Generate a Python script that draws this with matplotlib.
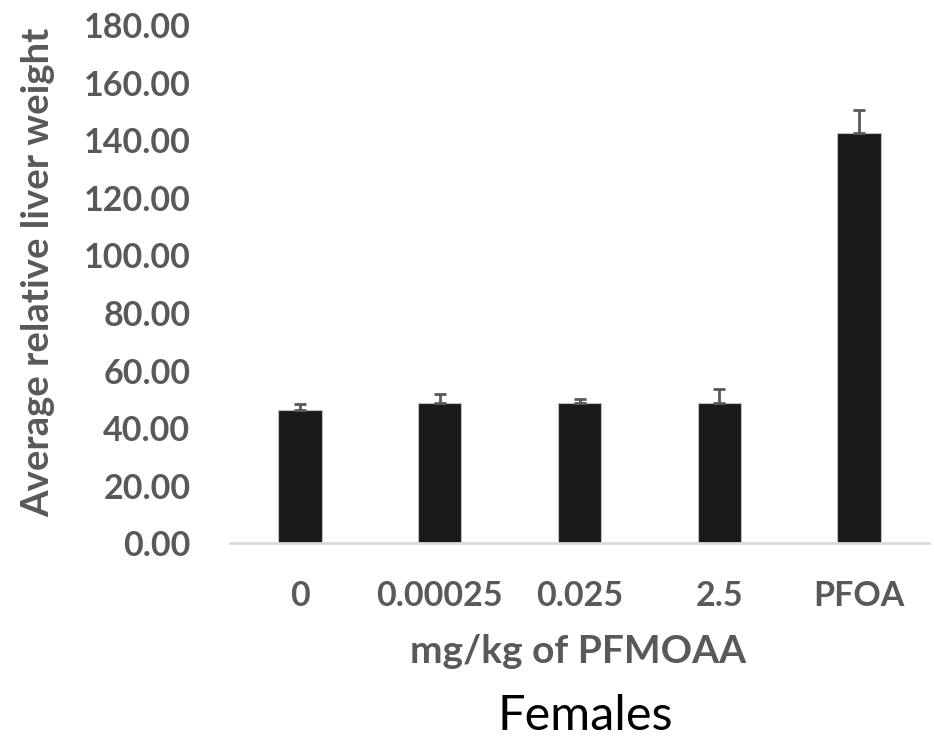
import matplotlib.pyplot as plt

# data
doses = ["0", "0.00025", "0.025", "2.5", "PFOA"]
liver_weight = [46.1, 48.6, 48.6, 48.6, 142.5]
liver_err = [2.3, 3.2, 1.5, 4.8, 8.1]

GREY = "#595959"
FONT = "Lato"

fig = plt.figure(figsize=(9.34, 7.41), dpi=100)
ax = fig.add_axes([0.2463, 0.2672, 0.7483, 0.6984])

x = range(len(doses))
ax.bar(x, liver_weight, width=0.31, color="#1a1a1a", edgecolor="#bfbfbf",
       linewidth=0.8, zorder=2)
ax.errorbar(x, liver_weight, yerr=[[0] * len(liver_err), liver_err], fmt="none",
            ecolor=GREY, elinewidth=2, capsize=4.5, capthick=2, zorder=3)

ax.set_xlim(-0.5, len(doses) - 0.5)
ax.set_ylim(0, 180)
ax.set_yticks(range(0, 181, 20))
ax.set_yticklabels(["%.2f" % v for v in range(0, 181, 20)])
ax.set_xticks(list(x))
ax.set_xticklabels(doses)

for s in ["top", "right", "left"]:
    ax.spines[s].set_visible(False)
ax.spines["bottom"].set_color("#d9d9d9")
ax.spines["bottom"].set_linewidth(2)
ax.tick_params(axis="both", length=0, colors=GREY)
ax.tick_params(axis="y", pad=28.5)
ax.tick_params(axis="x", pad=26.5)
for lab in ax.get_xticklabels() + ax.get_yticklabels():
    lab.set_fontfamily(FONT)
    lab.set_fontweight("bold")
    lab.set_fontsize(24.5)

# axis titles placed in figure coords
fig.text(0.619, 0.105, "mg/kg of PFMOAA", family=FONT, fontweight="bold",
         fontsize=28, color=GREY, ha="center", va="baseline")
fig.text(0.041, 0.633, "Average relative liver weight", family=FONT,
         fontweight="bold", fontsize=27.5, color=GREY, rotation=90,
         ha="center", va="center")

fig.text(0.627, 0.015, "Females", family=FONT, fontsize=35, color="black",
         ha="center", va="baseline")

fig.savefig("out.png", dpi=100)
